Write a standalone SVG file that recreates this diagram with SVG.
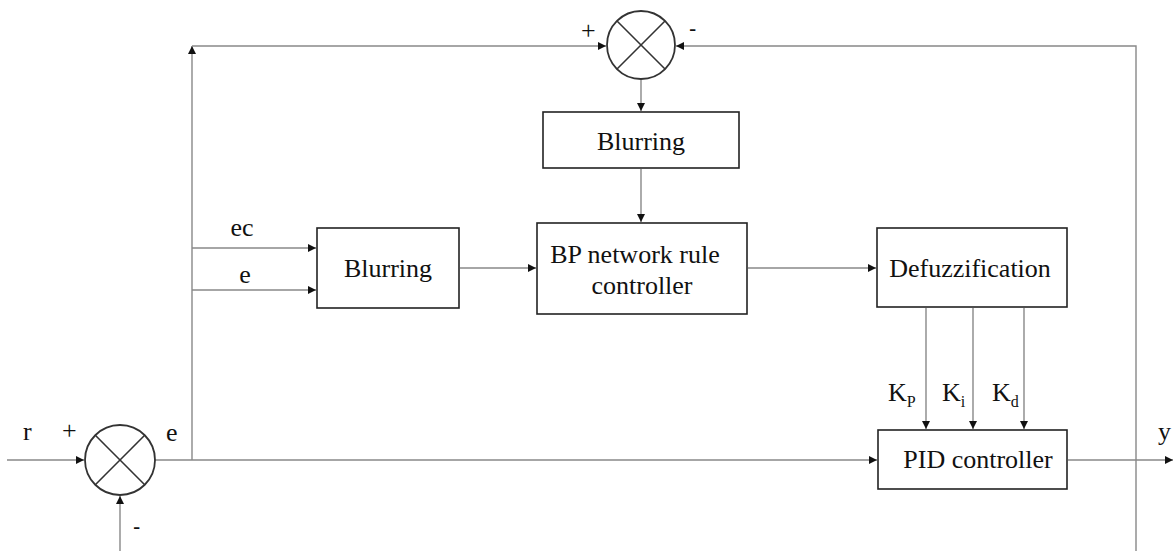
<svg xmlns="http://www.w3.org/2000/svg" width="1173" height="551" viewBox="0 0 1173 551">
<style>
  .box{fill:#fff;stroke:#222;stroke-width:1.6}
  .sum{fill:#fff;stroke:#333;stroke-width:1.8}
  .x{stroke:#333;stroke-width:1.6}
  .c{fill:none;stroke:#888;stroke-width:1.4}
  text{font-family:'Liberation Serif',serif;font-size:26px;fill:#111}
  .s{font-size:16px}
  .m{font-size:26px}
  .d{font-family:'Liberation Sans',sans-serif;font-size:22px}
</style>
<defs>
  <marker id="ah" viewBox="0 0 10 10" refX="10" refY="5" markerWidth="9" markerHeight="8" markerUnits="userSpaceOnUse" orient="auto">
    <path d="M0,0 L10,5 L0,10 Z" fill="#111"/>
  </marker>
</defs>
<rect width="1173" height="551" fill="#fff"/>
<g id="connectors">
  <path class="c" d="M7,460 H84" marker-end="url(#ah)"/>
  <path class="c" d="M120,551 V496" marker-end="url(#ah)"/>
  <path class="c" d="M155,460 H877" marker-end="url(#ah)"/>
  <path class="c" d="M192,460 V46" marker-end="url(#ah)"/>
  <path class="c" d="M192,46 H606" marker-end="url(#ah)"/>
  <path class="c" d="M1136,551 V46 H676" marker-end="url(#ah)"/>
  <path class="c" d="M641,80 V111" marker-end="url(#ah)"/>
  <path class="c" d="M641,169 V222" marker-end="url(#ah)"/>
  <path class="c" d="M192,248 H316" marker-end="url(#ah)"/>
  <path class="c" d="M192,290 H316" marker-end="url(#ah)"/>
  <path class="c" d="M460,268 H536" marker-end="url(#ah)"/>
  <path class="c" d="M748,268 H876" marker-end="url(#ah)"/>
  <path class="c" d="M926,308 V429" marker-end="url(#ah)"/>
  <path class="c" d="M973,308 V429" marker-end="url(#ah)"/>
  <path class="c" d="M1024,308 V429" marker-end="url(#ah)"/>
  <path class="c" d="M1068,460 H1173" marker-end="url(#ah)"/>
</g>
<g id="sum1">
  <circle class="sum" cx="120" cy="460" r="35"/>
  <line class="x" x1="95.3" y1="435.3" x2="144.7" y2="484.7"/>
  <line class="x" x1="144.7" y1="435.3" x2="95.3" y2="484.7"/>
</g>
<g id="sum2">
  <circle class="sum" cx="641" cy="45" r="34"/>
  <line class="x" x1="617" y1="21" x2="665" y2="69"/>
  <line class="x" x1="665" y1="21" x2="617" y2="69"/>
</g>
<g id="blur-top">
  <rect class="box" x="543" y="112" width="196" height="56"/>
  <text x="641" y="150" text-anchor="middle">Blurring</text>
</g>
<g id="blur-mid">
  <rect class="box" x="317" y="228" width="142" height="80"/>
  <text x="388" y="277" text-anchor="middle">Blurring</text>
</g>
<g id="bp">
  <rect class="box" x="537" y="223" width="210" height="91"/>
  <text x="635" y="263" text-anchor="middle">BP network rule</text>
  <text x="642" y="294" text-anchor="middle">controller</text>
</g>
<g id="defuzz">
  <rect class="box" x="877" y="228" width="190" height="79"/>
  <text x="970" y="277" text-anchor="middle">Defuzzification</text>
</g>
<g id="pid">
  <rect class="box" x="878" y="430" width="189" height="59"/>
  <text x="978" y="468" text-anchor="middle">PID controller</text>
</g>
<g id="labels">
  <text x="23" y="440">r</text>
  <text class="m" x="62" y="439">+</text>
  <text x="166" y="441">e</text>
  <text class="d" x="133" y="534">-</text>
  <text class="m" x="581" y="39">+</text>
  <text class="d" x="689" y="36">-</text>
  <text x="242" y="236" text-anchor="middle">ec</text>
  <text x="245" y="283" text-anchor="middle">e</text>
  <text x="888" y="401">K<tspan class="s" dy="6">P</tspan></text>
  <text x="942" y="401">K<tspan class="s" dy="6">i</tspan></text>
  <text x="992" y="401">K<tspan class="s" dy="6">d</tspan></text>
  <text x="1158" y="440">y</text>
</g>
</svg>
